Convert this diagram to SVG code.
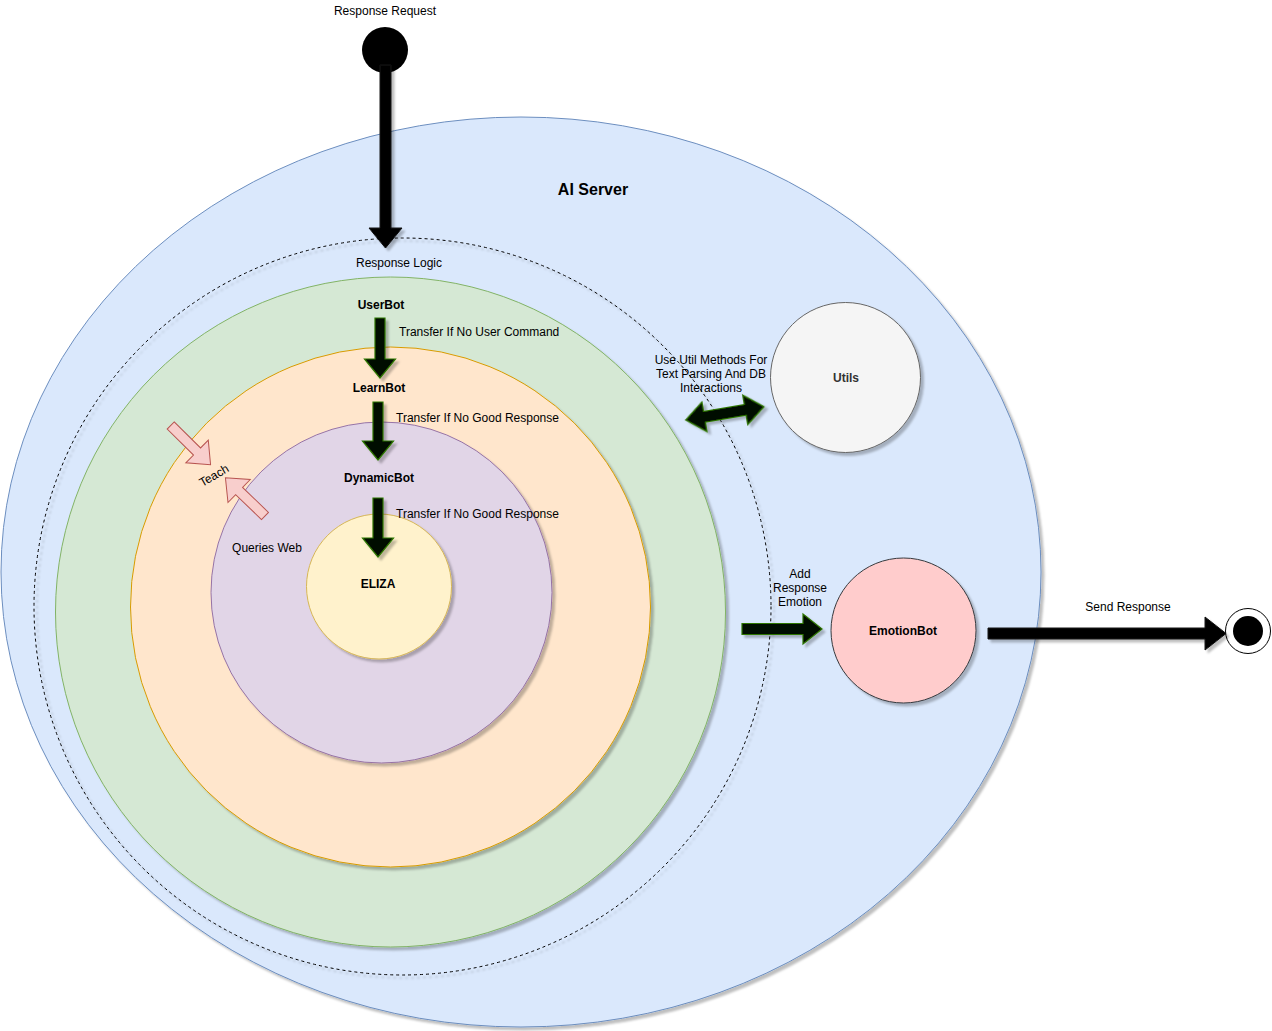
<svg xmlns="http://www.w3.org/2000/svg" width="1272" height="1031" viewBox="0 0 1272 1031">
<defs>
<filter id="sh" x="-10%" y="-10%" width="130%" height="130%">
<feDropShadow dx="3" dy="3" stdDeviation="1" flood-color="#000" flood-opacity="0.25"/>
</filter>
</defs>
<style>
text{font-family:"Liberation Sans",Arial,sans-serif;font-size:12px;fill:#000}
.b{font-weight:bold}
.c{text-anchor:middle}
.ga{fill:#050a02;stroke:#2d7600;stroke-width:1.2;filter:url(#sh)}
.ka{fill:#000;stroke:#111;stroke-width:1;filter:url(#sh)}
.pa{fill:#f8cecc;stroke:#b85450;stroke-width:1}
</style>
<rect width="1272" height="1031" fill="#fff"/>
<g id="ai-server">
<ellipse cx="521" cy="572" rx="520" ry="455" fill="#dae8fc" stroke="#6c8ebf" filter="url(#sh)"/>
<text x="593" y="195" class="b c" style="font-size:16px">AI Server</text>
</g>
<g id="response-logic">
<circle cx="402.5" cy="606.5" r="368.5" fill="none" stroke="#000" stroke-dasharray="3 3" filter="url(#sh)"/>
<text x="399" y="267" class="c">Response Logic</text>
</g>
<g id="userbot">
<circle cx="390.5" cy="612" r="335" fill="#d5e8d4" stroke="#82b366" filter="url(#sh)"/>
<text x="381" y="309" class="b c">UserBot</text>
</g>
<g id="learnbot">
<circle cx="390.5" cy="607" r="260" fill="#ffe6cc" stroke="#d79b00" filter="url(#sh)"/>
<text x="379" y="392" class="b c">LearnBot</text>
</g>
<g id="dynamicbot">
<circle cx="381.5" cy="592.5" r="170.5" fill="#e1d5e7" stroke="#9673a6" filter="url(#sh)"/>
<text x="379" y="482" class="b c">DynamicBot</text>
</g>
<g id="eliza">
<circle cx="379" cy="586.5" r="72.5" fill="#fff2cc" stroke="#d6b656" filter="url(#sh)"/>
<text x="378" y="588" class="b c">ELIZA</text>
</g>
<g id="utils">
<circle cx="845.5" cy="377.5" r="75" fill="#f5f5f5" stroke="#666666" filter="url(#sh)"/>
<text x="846" y="382" class="b c" style="fill:#333">Utils</text>
</g>
<g id="emotionbot">
<circle cx="903.5" cy="630.5" r="72.5" fill="#ffcccc" stroke="#36393d" filter="url(#sh)"/>
<text x="903" y="635" class="b c">EmotionBot</text>
</g>
<g id="start">
<circle cx="385" cy="50" r="23" fill="#000"/>
<text x="385" y="15" class="c">Response Request</text>
</g>
<g id="end">
<circle cx="1248" cy="631" r="22.5" fill="#fff" stroke="#000"/>
<circle cx="1248" cy="631" r="15" fill="#000"/>
</g>
<g id="connectors">
<path class="ka" d="M380,65 L391,65 L391,228 L402,228 L385.5,248 L369,228 L380,228 Z"/>
<path class="ga" d="M375,318 L385,318 L385,359 L395.5,359 L380,378 L364.5,359 L375,359 Z"/>
<text x="399" y="336">Transfer If No User Command</text>
<path class="ga" d="M373,402 L383,402 L383,441 L393.5,441 L378,460 L362.5,441 L373,441 Z"/>
<text x="396" y="422">Transfer If No Good Response</text>
<path class="ga" d="M373,498 L383,498 L383,538 L393.5,538 L378,557 L362.5,538 L373,538 Z"/>
<text x="396" y="518">Transfer If No Good Response</text>
<path class="pa" transform="translate(170.7,425.5) rotate(44.6)" d="M0,-5 L37,-5 L37,-16 L56,0 L37,16 L37,5 L0,5 Z"/>
<path class="pa" transform="translate(265,516) rotate(224)" d="M0,-5 L36,-5 L36,-16 L55,0 L36,16 L36,5 L0,5 Z"/>
<text transform="translate(216,479) rotate(-30)" class="c">Teach</text>
<text x="267" y="552" class="c">Queries Web</text>
<path class="ga" transform="translate(724.85,413.35) rotate(-9.64)" d="M-39.7,0 L-20.7,-15 L-20.7,-5.5 L20.7,-5.5 L20.7,-15 L39.7,0 L20.7,15 L20.7,5.5 L-20.7,5.5 L-20.7,15 Z"/>
<text x="711" y="364" class="c">Use Util Methods For</text>
<text x="711" y="378" class="c">Text Parsing And DB</text>
<text x="711" y="392" class="c">Interactions</text>
<path class="ga" d="M742,623.5 L803,623.5 L803,614 L822,629 L803,644 L803,634.5 L742,634.5 Z"/>
<text x="800" y="578" class="c">Add</text>
<text x="800" y="592" class="c">Response</text>
<text x="800" y="606" class="c">Emotion</text>
<path class="ka" d="M988,628 L1205,628 L1205,617 L1226,633.5 L1205,650 L1205,639 L988,639 Z"/>
<text x="1128" y="611" class="c">Send Response</text>
</g>
</svg>
